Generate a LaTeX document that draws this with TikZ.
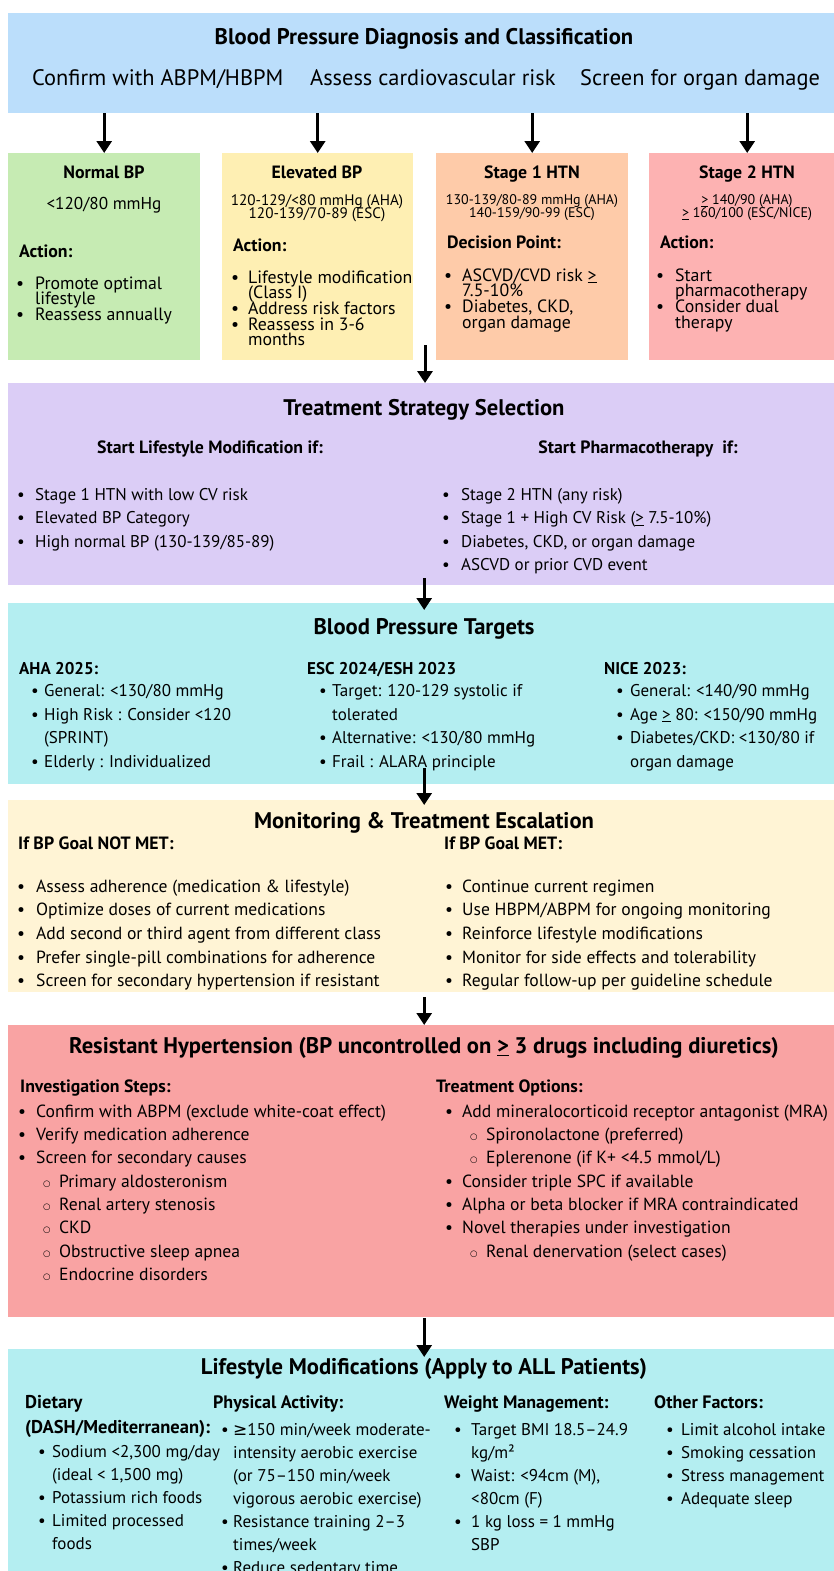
\documentclass[tikz,border=0pt]{standalone}
\usepackage{fontspec}
\setmainfont{PT Sans}
\newfontfamily\symf{DejaVu Sans}
\usetikzlibrary{arrows.meta,positioning}

\definecolor{diagblue}{HTML}{BBDEFB}
\definecolor{normgreen}{HTML}{C6EBB3}
\definecolor{elevyellow}{HTML}{FEEFB3}
\definecolor{stageorange}{HTML}{FECBA9}
\definecolor{stagepink}{HTML}{FDB2B2}
\definecolor{stratpurple}{HTML}{DBCDF6}
\definecolor{targetcyan}{HTML}{B4EEF1}
\definecolor{monyellow}{HTML}{FFF4D5}
\definecolor{resred}{HTML}{F9A3A3}

\newlength{\itmw}
\newcommand{\lsp}[2]{\fontsize{#1}{#2}\selectfont\lineskiplimit=-20pt}
\newcommand{\itm}{\strut\makebox[\itmw][l]{\textbullet}}
\newcommand{\cnt}{\strut\hspace*{\itmw}}
\newcommand{\sitm}{\strut\hspace*{25pt}\makebox[16pt][l]{\raisebox{1pt}{\symf\fontsize{8.5}{10}\selectfont ○}}}
\newcommand{\uge}{\underline{>}}

\begin{document}
\begin{tikzpicture}[
 x=1pt, y=-1pt,
 panel/.style={rectangle,draw=none,inner sep=0pt,anchor=north west},
 ttl/.style={anchor=base,inner sep=0pt,font=\bfseries\fontsize{22.6}{26}\selectfont},
 subttl/.style={anchor=base west,inner sep=0pt,font=\fontsize{22.4}{26}\selectfont},
 cls/.style={anchor=base,inner sep=0pt,font=\bfseries\fontsize{17.8}{20}\selectfont},
 hd/.style={anchor=base west,inner sep=0pt,font=\bfseries\fontsize{17.8}{20}\selectfont},
 rng/.style={anchor=north,align=center,inner sep=0pt,font=\lsp{15.2}{13}},
 clslst/.style={anchor=north west,align=left,inner sep=0pt,font=\lsp{17.8}{15.6}},
 lst/.style={anchor=north west,align=left,inner sep=0pt,font=\lsp{17}{#1}},
 biglst/.style={anchor=north west,align=left,inner sep=0pt,font=\lsp{17.6}{#1}},
 itemw/.code={\setlength{\itmw}{#1}},
 arr/.style={-{Triangle[length=12pt,width=15pt]},line width=3pt,black}
]
\useasboundingbox (0,0) rectangle (834,1571);

% panels
\node[panel,fill=diagblue,minimum width=832pt,minimum height=100pt] (diag) at (8,13) {};
\node[panel,fill=normgreen,minimum width=192pt,minimum height=207pt] (normal) at (8,153) {};
\node[panel,fill=elevyellow,minimum width=191pt,minimum height=207pt] (elev) at (222,153) {};
\node[panel,fill=stageorange,minimum width=192pt,minimum height=207pt] (stage1) at (436,153) {};
\node[panel,fill=stagepink,minimum width=196pt,minimum height=207pt] (stage2) at (649,153) {};
\node[panel,fill=stratpurple,minimum width=832pt,minimum height=202pt] (strat) at (8,383) {};
\node[panel,fill=targetcyan,minimum width=832pt,minimum height=181pt] (targets) at (8,603) {};
\node[panel,fill=monyellow,minimum width=832pt,minimum height=192pt] (monitor) at (8,800) {};
\node[panel,fill=resred,minimum width=832pt,minimum height=292pt] (resist) at (8,1025) {};
\node[panel,fill=targetcyan,minimum width=832pt,minimum height=230pt] (life) at (8,1349) {};

% diagnosis
\node[ttl] (diagT) at (424,44.9) {Blood Pressure Diagnosis and Classification};
\node[subttl] (diagA) at (32,85.8) {Confirm with ABPM/HBPM};
\node[subttl] (diagB) at (310,85.8) {Assess cardiovascular risk};
\node[subttl] (diagC) at (580,85.8) {Screen for organ damage};

% categories
\node[cls] (normalT) at (104,178.5) {Normal BP};
\node[anchor=base,inner sep=0pt,font=\fontsize{17.2}{19}\selectfont] (normalR) at (104,209) {<120/80 mmHg};
\node[hd] (normalA) at (19,257) {Action:};
\node[clslst,itemw=19pt] (normalL) at (16,276.4) {\itm Promote optimal\\ \cnt lifestyle\\ \itm Reassess annually};

\node[cls] (elevT) at (317,178.5) {Elevated BP};
\node[rng] (elevR) at (317,194.5) {\strut 120-129/<80 mmHg (AHA)\\ \strut 120-139/70-89 (ESC)};
\node[hd] (elevA) at (233,251) {Action:};
\node[clslst,itemw=17pt] (elevL) at (231,270.4) {\itm Lifestyle modification\\ \cnt (Class I)\\ \itm Address risk factors\\ \itm Reassess in 3-6\\ \cnt months};

\node[cls] (stage1T) at (532,178.5) {Stage 1 HTN};
\node[rng,font=\lsp{14}{13}] (stage1R) at (532,194.8) {\strut 130-139/80-89 mmHg (AHA)\\ \strut 140-159/90-99 (ESC)};
\node[hd] (stage1A) at (447,248) {Decision Point:};
\node[clslst,itemw=18pt] (stage1L) at (444,268.4) {\itm ASCVD/CVD risk \uge\\ \cnt 7.5-10\%\\ \itm Diabetes, CKD,\\ \cnt organ damage};

\node[cls] (stage2T) at (747,178.5) {Stage 2 HTN};
\node[rng,font=\lsp{14}{13}] (stage2R) at (747,194.8) {\strut\uge\ 140/90 (AHA)\\ \strut\uge\ 160/100 (ESC/NICE)};
\node[hd] (stage2A) at (660,248) {Action:};
\node[clslst,itemw=19pt] (stage2L) at (656,268.4) {\itm Start\\ \cnt pharmacotherapy\\ \itm Consider dual\\ \cnt therapy};

% strategy
\node[ttl] (stratT) at (424,415.9) {Treatment Strategy Selection};
\node[hd,anchor=base] (stratHL) at (210,453.2) {Start Lifestyle Modification if:};
\node[hd,anchor=base] (stratHR) at (638,453.2) {Start Pharmacotherapy\ \ if:};
\node[lst=23.5pt,itemw=18pt] (stratL) at (17,483.5) {\itm Stage 1 HTN with low CV risk\\ \itm Elevated BP Category\\ \itm High normal BP (130-139/85-89)};
\node[lst=23.5pt,itemw=19pt] (stratR) at (442,483.5) {\itm Stage 2 HTN (any risk)\\ \itm Stage 1 + High CV Risk (\uge\ 7.5-10\%)\\ \itm Diabetes, CKD, or organ damage\\ \itm ASCVD or prior CVD event};

% targets
\node[ttl] (targetsT) at (424,634.9) {Blood Pressure Targets};
\node[hd,font=\bfseries\fontsize{17}{20}\selectfont] (ahaH) at (19,674) {AHA 2025:};
\node[hd,font=\bfseries\fontsize{17}{20}\selectfont] (escH) at (307,674) {ESC 2024/ESH 2023};
\node[hd,font=\bfseries\fontsize{17}{20}\selectfont] (niceH) at (604,674) {NICE 2023:};
\node[lst=23.5pt,itemw=13pt] (ahaL) at (31,680) {\itm General: <130/80 mmHg\\ \itm High Risk : Consider <120\\ \cnt (SPRINT)\\ \itm Elderly : Individualized};
\node[lst=23.5pt,itemw=13pt] (escL) at (319,680) {\itm Target: 120-129 systolic if\\ \cnt tolerated\\ \itm Alternative: <130/80 mmHg\\ \itm Frail : ALARA principle};
\node[lst=23.5pt,itemw=14pt] (niceL) at (616,680) {\itm General: <140/90 mmHg\\ \itm Age \uge\ 80: <150/90 mmHg\\ \itm Diabetes/CKD: <130/80 if\\ \cnt organ damage};

% monitoring
\node[ttl] (monitorT) at (424,828.9) {Monitoring \& Treatment Escalation};
\node[hd] (notmetH) at (18,849.2) {If BP Goal NOT MET:};
\node[hd] (metH) at (444,849.2) {If BP Goal MET:};
\node[biglst=23.7pt,itemw=19pt] (notmetL) at (17,875.2) {\itm Assess adherence (medication \& lifestyle)\\ \itm Optimize doses of current medications\\ \itm Add second or third agent from different class\\ \itm Prefer single-pill combinations for adherence\\ \itm Screen for secondary hypertension if resistant};
\node[biglst=23.7pt,itemw=17pt] (metL) at (445,875.2) {\itm Continue current regimen\\ \itm Use HBPM/ABPM for ongoing monitoring\\ \itm Reinforce lifestyle modifications\\ \itm Monitor for side effects and tolerability\\ \itm Regular follow-up per guideline schedule};

% resistant
\node[ttl] (resistT) at (424,1053.9) {Resistant Hypertension (BP uncontrolled on \uge\ 3 drugs including diuretics)};
\node[hd] (investH) at (20,1092.3) {Investigation Steps:};
\node[hd] (treatH) at (436,1092.3) {Treatment Options:};
\node[biglst=23.3pt,itemw=18pt] (investL) at (18,1100.8) {\itm Confirm with ABPM (exclude white-coat effect)\\ \itm Verify medication adherence\\ \itm Screen for secondary causes\\ \sitm Primary aldosteronism\\ \sitm Renal artery stenosis\\ \sitm CKD\\ \sitm Obstructive sleep apnea\\ \sitm Endocrine disorders};
\node[biglst=23.3pt,itemw=17pt] (treatL) at (445,1100.8) {\itm Add mineralocorticoid receptor antagonist (MRA)\\ \sitm Spironolactone (preferred)\\ \sitm Eplerenone (if K+ <4.5 mmol/L)\\ \itm Consider triple SPC if available\\ \itm Alpha or beta blocker if MRA contraindicated\\ \itm Novel therapies under investigation\\ \sitm Renal denervation (select cases)};

% lifestyle
\node[ttl] (lifeT) at (424,1374.9) {Lifestyle Modifications (Apply to ALL Patients)};
\node[hd,font=\bfseries\fontsize{18.5}{20}\selectfont] (dietH) at (25,1408.3) {Dietary};
\node[hd,font=\bfseries\fontsize{18.5}{20}\selectfont] (dietH2) at (25,1433.3) {(DASH/Mediterranean):};
\node[hd,font=\bfseries\fontsize{18}{20}\selectfont] (physH) at (213,1408.3) {Physical Activity:};
\node[hd,font=\bfseries\fontsize{18}{20}\selectfont] (weightH) at (444,1408.3) {Weight Management:};
\node[hd,font=\bfseries\fontsize{18}{20}\selectfont] (otherH) at (654,1408.3) {Other Factors:};
\node[lst=23pt,itemw=14pt] (dietL) at (38,1441.5) {\itm Sodium <2,300 mg/day\\ \cnt (ideal < 1,500 mg)\\ \itm Potassium rich foods\\ \itm Limited processed\\ \cnt foods};
\node[lst=23pt,itemw=12pt] (physL) at (221,1419.5) {\itm {\symf ≥}150 min/week moderate-\\ \cnt intensity aerobic exercise\\ \cnt (or 75–150 min/week\\ \cnt vigorous aerobic exercise)\\ \itm Resistance training 2–3\\ \cnt times/week\\ \itm Reduce sedentary time};
\node[lst=23pt,itemw=17pt] (weightL) at (454,1419.5) {\itm Target BMI 18.5–24.9\\ \cnt kg/m²\\ \itm Waist: <94cm (M),\\ \cnt <80cm (F)\\ \itm 1 kg loss = 1 mmHg\\ \cnt SBP};
\node[lst=23pt,itemw=15pt] (otherL) at (666,1419.5) {\itm Limit alcohol intake\\ \itm Smoking cessation\\ \itm Stress management\\ \itm Adequate sleep};

% connectors
\coordinate (gap1) at (425,345);
\draw[arr] (diag.south -| normal.north) -- (normal.north);
\draw[arr] (diag.south -| elev.north) -- (elev.north);
\draw[arr] (diag.south -| stage1.north) -- (stage1.north);
\draw[arr] (diag.south -| stage2.north) -- (stage2.north);
\draw[arr] (gap1) -- (gap1 |- strat.north);
\draw[arr] ([yshift=7pt]strat.south) -- ([yshift=-7pt]targets.north);
\draw[arr] ([yshift=16pt]targets.south) -- ([yshift=-5pt]monitor.north);
\draw[arr] ([yshift=-5pt]monitor.south) -- (resist.north);
\draw[arr] ([yshift=-1pt]resist.south) -- ([yshift=-8pt]life.north);
\end{tikzpicture}
\end{document}
